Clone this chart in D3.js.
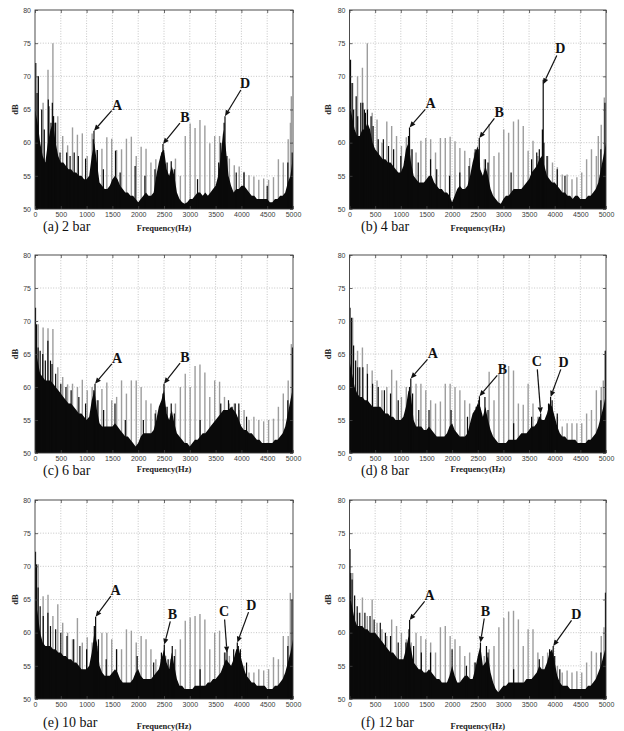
<!DOCTYPE html>
<html>
<head>
<meta charset="utf-8">
<script src="https://cdn.jsdelivr.net/npm/d3@7"></script>
<style>
  body { margin: 0; background: #fff; }
  svg { display: block; }
</style>
</head>
<body>
<svg id="chart" width="624" height="731"></svg>
<script>
// ---- axes ----
const freqTicks = [0, 500, 1000, 1500, 2000, 2500, 3000, 3500, 4000, 4500, 5000];
const dbTicks = [50, 55, 60, 65, 70, 75, 80];

// ---- harmonic comb (Hz) shared by all pressures ----
const harmonicHz = [62, 157, 252, 347, 442, 537, 632, 727, 822, 917, 1012, 1107, 1202, 1297, 1392, 1487,
  1582, 1677, 1772, 1867, 1962, 2057, 2152, 2247, 2342, 2437, 2532, 2627, 2722, 2817, 2912, 3007,
  3102, 3197, 3292, 3387, 3482, 3577, 3672, 3767, 3862, 3957, 4052, 4147, 4242, 4337, 4432, 4527,
  4622, 4717, 4812, 4907];

// harmonic line levels (dB) per pressure
const greyA = [70, 66, 71, 75, 64, 61, 59.6, 62.3, 61.2, 61.4, 58, 61.4, 58.9, 59.1, 60.8, 60.6, 58.9, 59, 60.6, 60.9,
  58, 59.4, 59.1, 57, 57.5, 58, 56, 55, 57.6, 55, 61, 62.9, 62.2, 63.4, 62.6, 59.9, 61, 61, 58, 57.6,
  56.6, 56.4, 55.6, 55.1, 54.9, 54.4, 54.6, 54.4, 54.8, 57.5, 57, 60.5];
const greyB = [69, 70, 71.3, 75, 64.5, 63.5, 60, 63.2, 62.5, 61, 59.5, 60.8, 59, 58.5, 60.3, 60.7, 60.5, 58.5, 60.7, 60.7,
  60.9, 60.2, 59.2, 58.8, 57.7, 58.5, 57, 57.5, 62.8, 58, 58.5, 62, 61.5, 63.2, 63.5, 62.5, 58.8, 60.3, 58, 60,
  58, 57, 56.3, 55.2, 55.2, 54.5, 54.8, 55.5, 57.5, 59, 58, 62.7];
const greyC = [69.5, 69, 68.9, 68.8, 63, 61.5, 60.4, 60.5, 60, 61.1, 59.5, 60, 58, 59.7, 60.7, 58, 58.5, 61, 59, 61,
  61, 60, 58, 57.5, 56.5, 57.5, 57, 56, 57.5, 60, 62, 60, 63.2, 63.4, 62.2, 58.5, 61, 60.8, 58.5, 57.5,
  57.5, 56.5, 56.5, 55, 55.5, 55, 54.8, 55, 55.2, 57, 59, 61];
const greyD = [70.5, 65.5, 66, 63.5, 62.5, 61, 59.5, 60, 62.6, 61, 58.5, 60, 57.5, 60.5, 60.5, 59.5, 58, 57.5, 57.8, 60.5,
  60.5, 60, 59.5, 58, 57.5, 56.5, 57, 55.5, 62.3, 58, 62, 63, 63.2, 62.5, 57.5, 57.3, 60.5, 57.5, 55.5, 54.5,
  55, 55.5, 55.5, 54, 54.5, 54.5, 54.5, 54.5, 56, 56.5, 59.5, 60];
const greyE = [70.3, 65.5, 65.7, 62.5, 64.3, 61.5, 60, 59, 62.2, 58.5, 59.3, 58.5, 58, 60, 60, 59, 57.5, 57.5, 60.5, 60.3,
  58.5, 59.5, 59, 57.5, 56, 56, 56.5, 56, 57.5, 59, 61.8, 62.3, 62.5, 62.8, 62, 57.5, 60, 60.3, 57, 56.5,
  55, 55, 55, 54, 54, 54.5, 54.3, 54.5, 56.3, 56, 59.5, 59.5];
const greyF = [69, 63, 65.3, 62.5, 65, 61.5, 60.5, 59.5, 62, 61, 60, 59, 58.5, 60, 59.5, 59, 58.5, 57, 60.8, 61,
  59.5, 59, 58, 56.5, 57, 55.5, 56.5, 56.5, 57.5, 58, 60.8, 62.2, 63.2, 63.3, 62, 58, 60.5, 60.5, 57, 56.5,
  57, 56, 55, 54, 54.3, 54, 54.2, 54, 55.5, 57.2, 57, 59.5];

// extra grey lines near the band edge [Hz, dB]
const edgeA = [[4950, 63], [4968, 67]];
const edgeB = [[4850, 61], [4967, 66.8]];
const edgeC = [[4968, 66.5]];
const edgeD = [[4948, 61], [4980, 65.5]];
const edgeE = [[4948, 66]];
const edgeF = [[4961, 60.8], [4993, 66]];

// broadband noise floor (dB), sampled every 50 Hz from 0 to 5000 Hz
const envelopeStepHz = 50;
const floorA = [65, 63, 60, 58, 57, 60, 62, 63, 60, 58, 57, 57, 56.5, 56, 56, 55.5, 55.5, 55, 55, 54.5,
  54.5, 55, 58, 60, 57, 54, 53.5, 53, 53, 53.5, 54.5, 55, 54.5, 53.5, 53, 52.5, 52.5, 52, 52, 51.5,
  51, 51.5, 52, 52.5, 52, 52, 52.5, 55, 57, 58.5, 59, 56, 55, 56.5, 55, 52.5, 51.5, 51, 50.8, 51,
  51.5, 51.5, 52, 52.5, 52.5, 52, 52.5, 52, 52.5, 53, 53.5, 55, 58, 62, 59, 55, 53.5, 52.5, 53, 53,
  53.5, 53.5, 53, 52.5, 52, 52, 51.5, 51.5, 51.5, 51.5, 51.5, 51, 51, 51.5, 51.5, 52, 52, 52.5, 54, 55, 58];
const floorB = [66, 64, 62, 61, 61, 62, 62, 63, 62, 60, 59, 58.5, 58, 57.5, 57.5, 57, 57, 56.5, 56, 55.5,
  55.5, 56.5, 59, 60, 57, 55, 54.5, 54, 54, 54, 54.5, 55, 55, 54, 53.5, 53, 53, 52.5, 52.5, 52,
  51, 52, 53, 53.5, 53, 53, 53.5, 55, 57, 58.5, 59.5, 56, 55, 56.5, 55, 53, 52, 51.5, 51, 50.8,
  51.5, 52, 52, 52.5, 53, 53, 53, 53, 53.5, 54, 54.5, 55.5, 56, 56.5, 57.5, 58, 56.5, 55, 54.5, 54,
  54, 53.5, 53, 52.5, 52.5, 52, 52, 51.5, 52, 52, 51.5, 51.5, 51.5, 52, 52, 52.5, 53, 54, 56, 58, 60];
const floorC = [66, 64, 62, 61.5, 61, 61, 61, 60.5, 60, 59.5, 59, 58.5, 58, 57.5, 57.5, 57, 56.5, 56, 56, 55.5,
  55, 55.5, 58, 59.5, 56.5, 54.5, 54, 54, 54, 54, 54, 54.5, 54, 53.5, 53, 52.5, 52.5, 52, 51.5, 51,
  51.5, 52.5, 53, 53, 53, 53, 53.5, 55, 57, 58, 59.5, 56, 55, 56.5, 54.5, 53, 52.5, 52, 51.5, 51.5,
  51, 51.5, 52, 52, 52.5, 53, 53, 53.5, 54, 54.5, 55, 55.5, 56, 56.5, 56.5, 56.5, 57, 56.5, 56, 55,
  54, 53.5, 53.5, 53, 53, 52.5, 52, 52, 51.5, 51.5, 51.5, 51.5, 51.5, 52, 52, 52.5, 53, 54, 56, 58, 60];
const floorD = [64, 62, 60, 59, 58.5, 58.5, 58, 58, 57.5, 57, 57, 57, 57, 56.5, 56, 56, 55.5, 55.5, 55, 55,
  55, 55.5, 57, 59.5, 58.5, 55, 54, 54, 54, 53.5, 53.5, 54, 53.5, 53, 52.5, 52.5, 52.5, 52.5, 53, 54,
  54.5, 53.5, 53, 52.5, 52.5, 52.5, 53, 54.5, 56, 56.5, 57.5, 57, 55.5, 57, 55, 53.5, 52.5, 52, 51.5, 51.5,
  51.5, 51.5, 52, 52, 52, 52, 52.5, 53, 53, 53, 53.5, 54, 54, 54.5, 55.5, 55, 55, 56, 57.5, 57,
  55.5, 54, 53, 52.5, 52.5, 52, 52, 52, 52, 51.5, 51.5, 51.5, 51.5, 52, 52, 52.5, 53, 54, 55.5, 57, 59];
const floorE = [65, 63, 60, 58.5, 58, 58, 58, 57.5, 57.5, 57, 57, 56.5, 56.5, 56, 56, 55.5, 55.5, 55, 54.5, 54.5,
  54.5, 55, 57, 60, 58.5, 55, 54, 53.5, 53.5, 53.5, 54, 54.5, 54, 53, 52.5, 52.5, 52.5, 52.5, 53, 54,
  54.5, 53.5, 53, 53, 53, 53, 53.5, 54, 54.5, 56, 57.5, 55.5, 54.5, 57, 55, 53, 52, 52, 51.5, 51.5,
  51.5, 51.5, 52, 52, 52, 52, 52, 52.5, 52.5, 53, 53, 53.5, 54, 55, 56, 55.5, 55, 56, 57.5, 57.5,
  56, 54.5, 53.5, 53, 52.5, 52.5, 52, 52, 52, 52, 51.5, 51.5, 51.5, 52, 52, 52.5, 53, 54, 55.5, 57, 59];
const floorF = [66, 64, 62, 61, 61, 61, 60.5, 60.5, 60, 60, 60, 59.5, 59, 58.5, 58, 57.5, 57, 57, 56.5, 56,
  56, 56, 57.5, 59.5, 57.5, 55.5, 55, 54.5, 54.5, 54, 54, 54.5, 54, 53.5, 53, 53, 52.5, 52.5, 52.5, 53.5,
  55, 53.5, 52.5, 52.5, 53, 53.5, 53.5, 53, 53, 54.5, 56.5, 58, 55, 55.5, 56.5, 54, 52.5, 51.5, 51, 51.5,
  52, 52, 52.5, 52.5, 52.5, 52.5, 52.5, 52.5, 52.5, 53, 53, 53, 53.5, 54, 55, 54.5, 54.5, 55.5, 57, 57.5,
  55.5, 53.5, 52.5, 52, 52, 52, 51.5, 51.5, 51.5, 51.5, 51.5, 51.5, 51.5, 52, 52, 52.5, 53, 54, 55, 56.5, 58];

// dark narrow-band spikes [Hz, dB]
const spikesA = [[15, 72], [40, 67.5], [65, 70], [130, 65], [180, 62], [258, 66.5], [270, 65.5], [310, 63], [336, 66],
  [360, 64], [388, 63], [400, 63], [485, 58.5], [614, 58.5], [680, 58], [760, 58.5], [840, 58], [980, 57.6],
  [1130, 60.5], [1143, 61.8], [1208, 58.9], [1325, 56], [1560, 58.8], [1650, 55.5], [1940, 56.5], [2130, 55],
  [2325, 56], [2465, 58.5], [2480, 59.8], [2560, 57], [2640, 57.2], [2700, 56], [3150, 54.5], [3560, 57],
  [3600, 60], [3665, 63], [3682, 64], [3720, 58], [3900, 55.5], [4050, 55.5], [4500, 53.5], [4900, 57], [4985, 58.5]];
const spikesB = [[20, 72.5], [50, 69], [80, 65], [130, 67], [160, 64], [220, 66], [260, 66], [290, 65], [310, 64.5],
  [350, 65], [420, 64], [460, 62.5], [560, 60.5], [660, 60.5], [760, 59.5], [860, 59], [1000, 58],
  [1150, 61], [1170, 62.3], [1220, 59], [1340, 57], [1580, 57.5], [1700, 56], [1950, 55], [2150, 55.5],
  [2330, 56.5], [2450, 59], [2510, 59], [2530, 60.7], [2650, 57.5], [2700, 57], [3150, 55.5], [3550, 57.5],
  [3650, 58.5], [3700, 59], [3760, 62], [3776, 69.5], [3790, 60], [3850, 58], [4050, 56], [4200, 55], [4900, 59], [4980, 66]];
const spikesC = [[10, 72], [30, 69.5], [60, 66], [100, 65.5], [150, 65], [200, 64], [250, 67], [300, 64], [330, 63.5],
  [400, 62], [500, 60.5], [600, 60], [700, 59.5], [850, 58.5], [980, 57.5], [1140, 59.5], [1163, 60.5],
  [1220, 58], [1330, 56.5], [1550, 57.5], [1750, 55], [2100, 55], [2330, 56], [2480, 59], [2500, 60.5],
  [2560, 57], [2640, 57.5], [2700, 56], [3200, 55], [3600, 57.5], [3750, 58], [3820, 57], [3880, 57.5],
  [3950, 57.5], [4100, 55.5], [4900, 58], [4990, 66]];
const spikesD = [[10, 72], [40, 70.5], [80, 66.3], [120, 64], [160, 63], [200, 63], [260, 63], [350, 62], [450, 60.5],
  [560, 60], [680, 59.5], [800, 59], [950, 58], [1170, 60], [1195, 61.3], [1230, 59], [1350, 56.5], [1550, 56.5],
  [1980, 56.5], [2300, 55.5], [2470, 57], [2520, 58], [2533, 58.6], [2640, 58.5], [2700, 56.5], [3200, 54.5],
  [3550, 55.5], [3700, 55.5], [3727, 56], [3880, 57.5], [3920, 58.5], [3950, 58], [4050, 56], [4900, 58], [4990, 65.5]];
const spikesE = [[10, 72.2], [30, 70.3], [60, 66.8], [100, 64], [160, 62.5], [250, 63], [300, 61], [400, 60.5],
  [500, 60], [620, 59.5], [750, 59], [870, 58], [1000, 57.5], [1150, 61], [1175, 62.4], [1230, 59], [1380, 56],
  [1580, 57.5], [1980, 56.5], [2300, 55.5], [2450, 57], [2506, 58.2], [2580, 56], [2660, 58], [2700, 56.5],
  [3200, 54.5], [3680, 57], [3721, 57.3], [3850, 57.5], [3921, 58.5], [3940, 58], [3980, 57.5], [4100, 55.5],
  [4900, 58], [4980, 65]];
const spikesF = [[10, 72.6], [25, 69], [50, 68], [100, 65.6], [150, 64], [200, 63], [300, 63], [400, 62.5], [480, 62],
  [600, 61.5], [700, 60], [800, 59.5], [950, 58.5], [1100, 58.5], [1160, 60.5], [1172, 61.9], [1250, 58],
  [1400, 57], [1580, 57], [2000, 57.5], [2280, 55], [2450, 55.5], [2553, 58.5], [2670, 58], [2700, 57],
  [3200, 54.5], [3700, 56], [3900, 57.5], [3940, 57], [3971, 58], [4000, 56.5], [4100, 54.5], [4900, 57], [4990, 66]];

// labelled peaks [label, Hz, dB]
const peaksA = [["A", 1143, 61.8], ["B", 2480, 59.8], ["D", 3682, 64]];
const peaksB = [["A", 1170, 62.3], ["B", 2530, 60.7], ["D", 3776, 68.8]];
const peaksC = [["A", 1163, 60.5], ["B", 2500, 60.5]];
const peaksD = [["A", 1195, 61.3], ["B", 2533, 58.6], ["C", 3727, 56], ["D", 3920, 58.5]];
const peaksE = [["A", 1175, 62.4], ["B", 2506, 58.2], ["C", 3721, 57], ["D", 3921, 58.5]];
const peaksF = [["A", 1172, 61.9], ["B", 2553, 58.5], ["D", 3971, 58]];

const captions = ["(a) 2 bar", "(b) 4 bar", "(c) 6 bar", "(d) 8 bar", "(e) 10 bar", "(f) 12 bar"];

// ---- layout ----
const cols = [
  { left: 35, right: 293, capX: 43, dbX: 15 },
  { left: 349.5, right: 606, capX: 361, dbX: 328 }
];
const rows = [
  { top: 10, bottom: 209, capY: 231, freqY: 231 },
  { top: 255, bottom: 453, capY: 475, freqY: 472 },
  { top: 500, bottom: 699, capY: 727, freqY: 729 }
];
// label placement relative to arrow tip (px)
const calloutOffsets = [
  [[23, -26], [22, -27], [20, -33]],
  [[21, -24], [20, -26], [17, -36]],
  [[22, -26], [21, -27]],
  [[22, -25], [23, -27], [-4, -52], [13, -35]],
  [[20, -27], [8, -31], [-3, -41], [14, -38]],
  [[20, -25], [5, -32], [23, -32]]
];

const panels = [
  { grey: greyA, edge: edgeA, floor: floorA, spikes: spikesA, peaks: peaksA },
  { grey: greyB, edge: edgeB, floor: floorB, spikes: spikesB, peaks: peaksB },
  { grey: greyC, edge: edgeC, floor: floorC, spikes: spikesC, peaks: peaksC },
  { grey: greyD, edge: edgeD, floor: floorD, spikes: spikesD, peaks: peaksD },
  { grey: greyE, edge: edgeE, floor: floorE, spikes: spikesE, peaks: peaksE },
  { grey: greyF, edge: edgeF, floor: floorF, spikes: spikesF, peaks: peaksF }
];

const svg = d3.select("#chart");
const defs = svg.append("defs");
const GREY = "#9d9d9d";
const INK = "#0a0a0a";

panels.forEach((p, i) => {
  const col = cols[i % 2], row = rows[Math.floor(i / 2)];
  const x = d3.scaleLinear().domain([0, 5000]).range([col.left, col.right]);
  const y = d3.scaleLinear().domain([50, 80]).range([row.bottom, row.top]);
  const g = svg.append("g");

  const clipId = "clip" + i;
  defs.append("clipPath").attr("id", clipId).append("rect")
    .attr("x", col.left).attr("y", row.top)
    .attr("width", col.right - col.left).attr("height", row.bottom - row.top);

  // dotted grid
  const grid = g.append("g").attr("stroke", "#b8b8b8").attr("stroke-width", 0.8)
    .attr("stroke-dasharray", "1,1.6");
  grid.selectAll("line.v").data(freqTicks.slice(1, -1)).join("line").attr("class", "v")
    .attr("x1", d => x(d)).attr("x2", d => x(d)).attr("y1", row.top).attr("y2", row.bottom);
  grid.selectAll("line.h").data(dbTicks.slice(1, -1)).join("line").attr("class", "h")
    .attr("y1", d => y(d)).attr("y2", d => y(d)).attr("x1", col.left).attr("x2", col.right);

  const plot = g.append("g").attr("clip-path", `url(#${clipId})`);

  // harmonic comb
  const combData = p.grey.map((v, k) => [harmonicHz[k], v]).concat(p.edge);
  plot.append("g").attr("stroke", GREY).attr("stroke-width", 1.4)
    .selectAll("line").data(combData).join("line")
    .attr("x1", d => x(d[0])).attr("x2", d => x(d[0]))
    .attr("y1", y(50)).attr("y2", d => y(d[1]));

  // broadband floor
  const area = d3.area()
    .x((d, k) => x(k * envelopeStepHz))
    .y0(y(50)).y1(d => y(d))
    .curve(d3.curveLinear);
  plot.append("path").datum(p.floor).attr("d", area).attr("fill", INK);

  // narrow dark spikes
  plot.append("g").attr("stroke", INK).attr("stroke-width", 1.2)
    .selectAll("line").data(p.spikes).join("line")
    .attr("x1", d => x(d[0])).attr("x2", d => x(d[0]))
    .attr("y1", y(50)).attr("y2", d => y(d[1]));

  // frame
  g.append("rect").attr("x", col.left).attr("y", row.top)
    .attr("width", col.right - col.left).attr("height", row.bottom - row.top)
    .attr("fill", "none").attr("stroke", "#3a3a3a").attr("stroke-width", 0.9);

  // axes
  const styleAxis = sel => {
    sel.select(".domain").remove();
    sel.selectAll(".tick line").attr("stroke", "#444").attr("stroke-width", 0.8);
    sel.selectAll(".tick text").attr("fill", "#3a3a3a")
      .style("font-family", "'Liberation Sans', Arial, sans-serif").style("font-size", "7px");
  };
  g.append("g").attr("transform", `translate(0,${row.bottom})`)
    .call(d3.axisBottom(x).tickValues(freqTicks).tickSize(-3).tickPadding(3).tickFormat(d3.format("d")))
    .call(styleAxis);
  g.append("g").attr("transform", `translate(0,${row.top})`)
    .call(d3.axisTop(x).tickValues(freqTicks).tickSize(-3).tickFormat(""))
    .call(styleAxis);
  g.append("g").attr("transform", `translate(${col.left},0)`)
    .call(d3.axisLeft(y).tickValues(dbTicks).tickSize(-3).tickPadding(4).tickFormat(d3.format("d")))
    .call(styleAxis);
  g.append("g").attr("transform", `translate(${col.right},0)`)
    .call(d3.axisRight(y).tickValues(dbTicks).tickSize(-3).tickFormat(""))
    .call(styleAxis);

  // axis titles
  g.append("text").attr("x", (col.left + col.right) / 2).attr("y", row.freqY)
    .attr("text-anchor", "middle").attr("fill", "#222")
    .style("font-family", "'Liberation Serif', 'Times New Roman', serif")
    .style("font-weight", "bold").style("font-size", "8.5px").text("Frequency(Hz)");
  g.append("text")
    .attr("transform", `translate(${col.dbX},${(row.top + row.bottom) / 2}) rotate(-90)`)
    .attr("text-anchor", "middle").attr("dy", "0.35em").attr("fill", "#222")
    .style("font-family", "'Liberation Serif', 'Times New Roman', serif")
    .style("font-weight", "bold").style("font-size", "8.5px").text("dB");

  // caption
  g.append("text").attr("x", col.capX).attr("y", row.capY).attr("fill", "#111")
    .style("font-family", "'Liberation Serif', 'Times New Roman', serif")
    .style("font-size", "14px").text(captions[i]);

  // callouts
  const offs = calloutOffsets[i];
  p.peaks.forEach((pk, k) => {
    const tx = x(pk[1]), ty = y(pk[2]);
    const [dx, dy] = offs[k];
    const lx = tx + dx, ly = ty + dy;
    const len = Math.hypot(dx, dy);
    const ux = -dx / len, uy = -dy / len;      // direction label -> tip
    const sx = lx + ux * 8, sy = ly + uy * 8;
    const ah = 6, aw = 2.6;
    const bx = tx - ux * ah, by = ty - uy * ah;
    g.append("line").attr("x1", sx).attr("y1", sy).attr("x2", bx).attr("y2", by)
      .attr("stroke", "#111").attr("stroke-width", 1.2);
    g.append("path")
      .attr("d", `M${tx},${ty}L${bx - uy * aw},${by + ux * aw}L${bx + uy * aw},${by - ux * aw}Z`)
      .attr("fill", "#111");
    g.append("text").attr("x", lx).attr("y", ly).attr("dy", "0.35em")
      .attr("text-anchor", "middle").attr("fill", "#111")
      .style("font-family", "'Liberation Serif', 'Times New Roman', serif")
      .style("font-weight", "bold").style("font-size", "14px").text(pk[0]);
  });
});
</script>
</body>
</html>
